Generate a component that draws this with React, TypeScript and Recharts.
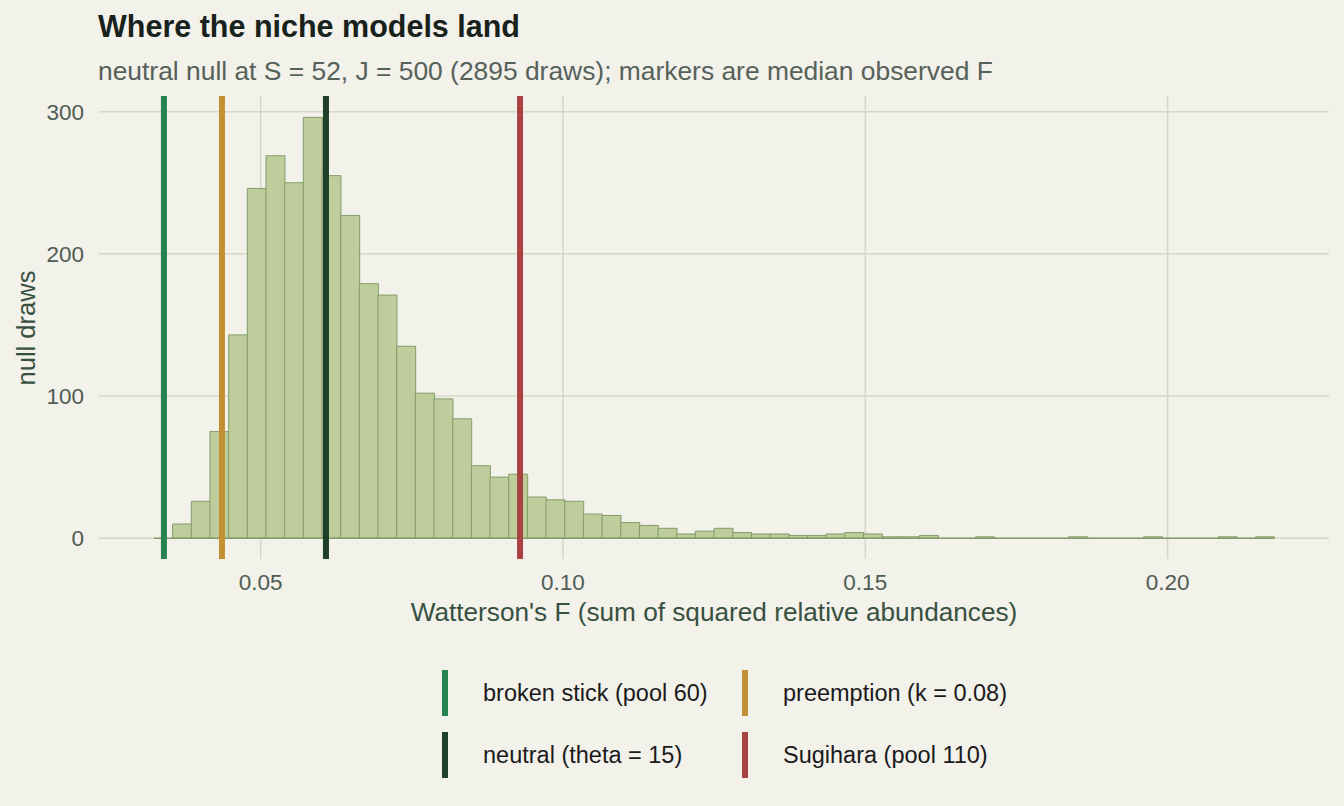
import React from "react";
import {
  ComposedChart,
  Bar,
  XAxis,
  YAxis,
  CartesianGrid,
  ReferenceLine,
  Label,
} from "recharts";

// histogram of Watterson's F under the neutral null (60 equal-width bins)
const BIN_START = 0.03235;
const BIN_WIDTH = 0.003088;
const nullCounts = [
  0, 10, 26, 75, 143, 246, 269, 250, 296, 255, 227, 179, 171, 135, 102, 98, 84,
  51, 43, 45, 29, 27, 26, 17, 16, 11, 9, 7, 3, 5, 7, 4, 3, 3, 2, 2, 3, 4, 3, 1,
  1, 2, 0, 0, 1, 0, 0, 0, 0, 1, 0, 0, 0, 1, 0, 0, 0, 1, 0, 1,
];

// median observed F per niche model
const modelNames = [
  "broken stick (pool 60)",
  "preemption (k = 0.08)",
  "neutral (theta = 15)",
  "Sugihara (pool 110)",
];
const modelF = [0.034, 0.0436, 0.0608, 0.0929];
const modelColors = ["#26824f", "#c39133", "#1e4029", "#a94343"];

const xTicks = [0.05, 0.1, 0.15, 0.2];
const yTicks = [0, 100, 200, 300];

const BG = "#f2f1ea";
const GRID = "#d7d7c5";
const BAR_EDGE = "#839c6a";
const FONT = "'Liberation Sans', Arial, sans-serif";

const bins = nullCounts.map((count, i) => ({
  mid: BIN_START + (i + 0.5) * BIN_WIDTH,
  count,
}));
const binEnd = BIN_START + nullCounts.length * BIN_WIDTH;

// legend laid out as 2 x 2, row-major
const legendCols = [442, 742];
const legendRows = [670, 732];

// grid lines only at the major ticks, placed through the axis scale
function gridAt(axis: any, ticks: number[]) {
  const s = axis?.scale;
  return ticks
    .map((t) => (typeof s === "function" ? s(t) : s?.map?.(t)))
    .filter((v) => typeof v === "number" && isFinite(v));
}

export default function App() {
  return (
    <div
      style={{
        position: "absolute",
        left: 0,
        top: 0,
        width: 1344,
        height: 806,
        background: BG,
        fontFamily: FONT,
      }}
    >
      <ComposedChart
        width={1344}
        height={640}
        data={bins}
        margin={{ top: 96, right: 15, bottom: 0, left: 0 }}
        barCategoryGap={0}
        barGap={0}
      >
        <CartesianGrid
          stroke={GRID}
          strokeWidth={1.5}
          horizontalCoordinatesGenerator={({ yAxis }: any) =>
            gridAt(yAxis, yTicks)
          }
          verticalCoordinatesGenerator={({ xAxis }: any) =>
            gridAt(xAxis, xTicks)
          }
        />
        <XAxis
          type="number"
          dataKey="mid"
          domain={[0.02326, 0.2267]}
          allowDataOverflow
          ticks={xTicks}
          tickFormatter={(v: number) => v.toFixed(2)}
          axisLine={false}
          tickLine={false}
          tickSize={0}
          tickMargin={15}
          height={81}
          tick={{ fill: "#4f5c53", fontSize: 22.5, fontFamily: FONT }}
        >
          <Label
            content={() => (
              <text
                x={714}
                y={621}
                textAnchor="middle"
                fill="#37503f"
                fontSize={26.2}
                fontFamily={FONT}
              >
                Watterson's F (sum of squared relative abundances)
              </text>
            )}
          />
        </XAxis>
        <YAxis
          type="number"
          domain={[-14.6, 311]}
          allowDataOverflow
          ticks={yTicks}
          axisLine={false}
          tickLine={false}
          tickSize={0}
          tickMargin={15}
          width={99}
          tick={{ fill: "#4f5c53", fontSize: 22.5, fontFamily: FONT }}
        >
          <Label
            content={() => (
              <text
                x={35}
                y={328}
                transform="rotate(-90, 35, 328)"
                textAnchor="middle"
                fill="#37503f"
                fontSize={25.5}
                fontFamily={FONT}
              >
                null draws
              </text>
            )}
          />
        </YAxis>
        <Bar
          dataKey="count"
          fill="#bfcd9c"
          stroke={BAR_EDGE}
          strokeWidth={1}
          isAnimationActive={false}
        />
        <ReferenceLine
          segment={[
            { x: BIN_START, y: 0 },
            { x: binEnd, y: 0 },
          ]}
          stroke={BAR_EDGE}
          strokeWidth={1.5}
        />
        {modelF.map((f, i) => (
          <ReferenceLine
            key={modelNames[i]}
            x={f}
            stroke={modelColors[i]}
            strokeWidth={6}
          />
        ))}
      </ComposedChart>

      <svg
        width={1344}
        height={806}
        style={{ position: "absolute", left: 0, top: 0, pointerEvents: "none" }}
      >
        <text
          x={98}
          y={37}
          fill="#18211b"
          fontSize={30.5}
          fontWeight="bold"
          fontFamily={FONT}
        >
          Where the niche models land
        </text>
        <text x={98} y={80} fill="#56615a" fontSize={26.4} fontFamily={FONT}>
          neutral null at S = 52, J = 500 (2895 draws); markers are median
          observed F
        </text>
        {modelNames.map((name, i) => {
          const cx = legendCols[i % 2];
          const ry = legendRows[Math.floor(i / 2)];
          return (
            <g key={name}>
              <rect x={cx} y={ry} width={6} height={46} fill={modelColors[i]} />
              <text
                x={cx + 41}
                y={ry + 31}
                fill="#1a1a1a"
                fontSize={23.5}
                fontFamily={FONT}
              >
                {name}
              </text>
            </g>
          );
        })}
      </svg>
    </div>
  );
}
